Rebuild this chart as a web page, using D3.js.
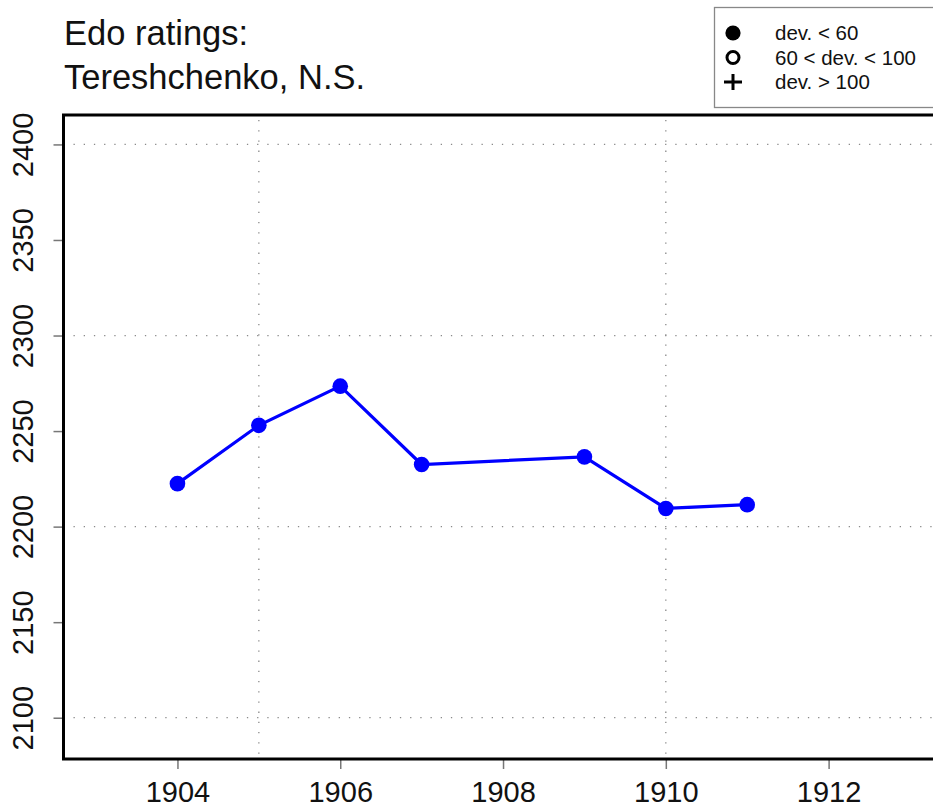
<!DOCTYPE html>
<html>
<head>
<meta charset="utf-8">
<script src="https://cdn.jsdelivr.net/npm/d3@7"></script>
<style>
  body { margin: 0; background: #fff; }
  text { font-family: "Liberation Sans", Arial, sans-serif; fill: #111; }
</style>
</head>
<body>
<div id="chart"></div>
<script>
// ratings by year
const years = [1904, 1905, 1906, 1907, 1909, 1910, 1911]
const ratings = [2222.5, 2253, 2273.5, 2232.5, 2236.5, 2209.5, 2211.5]

const yTicks = [2100, 2150, 2200, 2250, 2300, 2350, 2400]
const xTicks = [1904, 1906, 1908, 1910, 1912]
const yGrid = [2100, 2200, 2300, 2400]
const xGrid = [1905, 1910]

const titleLines = ["Edo ratings:", "Tereshchenko, N.S."]
const legendLabels = ["dev. < 60", "60 < dev. < 100", "dev. > 100"]

const width = 933
const height = 811
const padL = 63.5, padR = 945, padT = 115, padB = 759

const svg = d3.select("#chart").append("svg")
  .attr("width", width)
  .attr("height", height)

const x = d3.scaleLinear()
  .domain([1902.6, 1913.43])
  .range([padL, padR])
const y = d3.scaleLinear()
  .domain([2078.4, 2415.4])
  .range([padB, padT])

// grid (dotted)
svg.append("g").selectAll("line")
  .data(yGrid).enter().append("line")
  .attr("x1", padL + 10).attr("x2", padR)
  .attr("y1", d => y(d)).attr("y2", d => y(d))
  .attr("stroke", "#8a8a8a").attr("stroke-width", 1.3)
  .attr("stroke-dasharray", "1.3,8.9")
svg.append("g").selectAll("line")
  .data(xGrid).enter().append("line")
  .attr("x1", d => x(d)).attr("x2", d => x(d))
  .attr("y1", padT + 5).attr("y2", padB)
  .attr("stroke", "#8a8a8a").attr("stroke-width", 1.3)
  .attr("stroke-dasharray", "1.3,8.9")

// axes
const yAxis = d3.axisLeft(y).tickValues(yTicks).tickSize(10).tickPadding(0).tickFormat(d3.format("d"))
const gy = svg.append("g").attr("transform", "translate(" + padL + ",0)").call(yAxis)
gy.select(".domain").remove()
gy.selectAll(".tick line").attr("stroke", "#777").attr("stroke-width", 1.5)
gy.selectAll(".tick text")
  .attr("transform", "rotate(-90)")
  .attr("x", 0).attr("y", -31)
  .attr("dy", 0)
  .attr("text-anchor", "middle")
  .style("font-size", "29px")
  .style("font-family", "Liberation Sans, Arial, sans-serif")
  .attr("fill", "#111")

const xAxis = d3.axisBottom(x).tickValues(xTicks).tickSize(10).tickFormat(d3.format("d"))
const gx = svg.append("g").attr("transform", "translate(0," + padB + ")").call(xAxis)
gx.select(".domain").remove()
gx.selectAll(".tick line").attr("stroke", "#777").attr("stroke-width", 1.5)
gx.selectAll(".tick text")
  .attr("y", 43).attr("dy", 0)
  .style("font-size", "29px")
  .style("font-family", "Liberation Sans, Arial, sans-serif")
  .attr("fill", "#111")

// plot box
svg.append("rect")
  .attr("x", padL).attr("y", padT)
  .attr("width", padR - padL).attr("height", padB - padT)
  .attr("fill", "none").attr("stroke", "#000").attr("stroke-width", 3)

// series
const pts = years.map((d, i) => [d, ratings[i]])
svg.append("path")
  .datum(pts)
  .attr("fill", "none")
  .attr("stroke", "#0000ff")
  .attr("stroke-width", 3.2)
  .attr("d", d3.line().x(d => x(d[0])).y(d => y(d[1])))
svg.append("g").selectAll("circle")
  .data(pts).enter().append("circle")
  .attr("cx", d => x(d[0])).attr("cy", d => y(d[1]))
  .attr("r", 7.8).attr("fill", "#0000ff")

// title
svg.append("g").selectAll("text")
  .data(titleLines).enter().append("text")
  .attr("x", 64).attr("y", (d, i) => 45 + i * 44)
  .style("font-size", "34.5px")
  .text(d => d)

// legend
const lg = svg.append("g")
lg.append("rect")
  .attr("x", 714.5).attr("y", 7.5).attr("width", 260).attr("height", 100)
  .attr("fill", "#fff").attr("stroke", "#888").attr("stroke-width", 1.3)
const rowY = i => 33 + i * 24.5
lg.selectAll("text")
  .data(legendLabels).enter().append("text")
  .attr("x", 775).attr("y", (d, i) => rowY(i) + 7)
  .style("font-size", "20.5px")
  .text(d => d)
lg.append("circle").attr("cx", 733).attr("cy", rowY(0)).attr("r", 7.6).attr("fill", "#000")
lg.append("circle").attr("cx", 733).attr("cy", rowY(1)).attr("r", 6)
  .attr("fill", "none").attr("stroke", "#000").attr("stroke-width", 3)
lg.append("path")
  .attr("d", "M724," + rowY(2) + "h18M733," + (rowY(2) - 8) + "v16")
  .attr("stroke", "#000").attr("stroke-width", 3)
</script>
</body>
</html>
